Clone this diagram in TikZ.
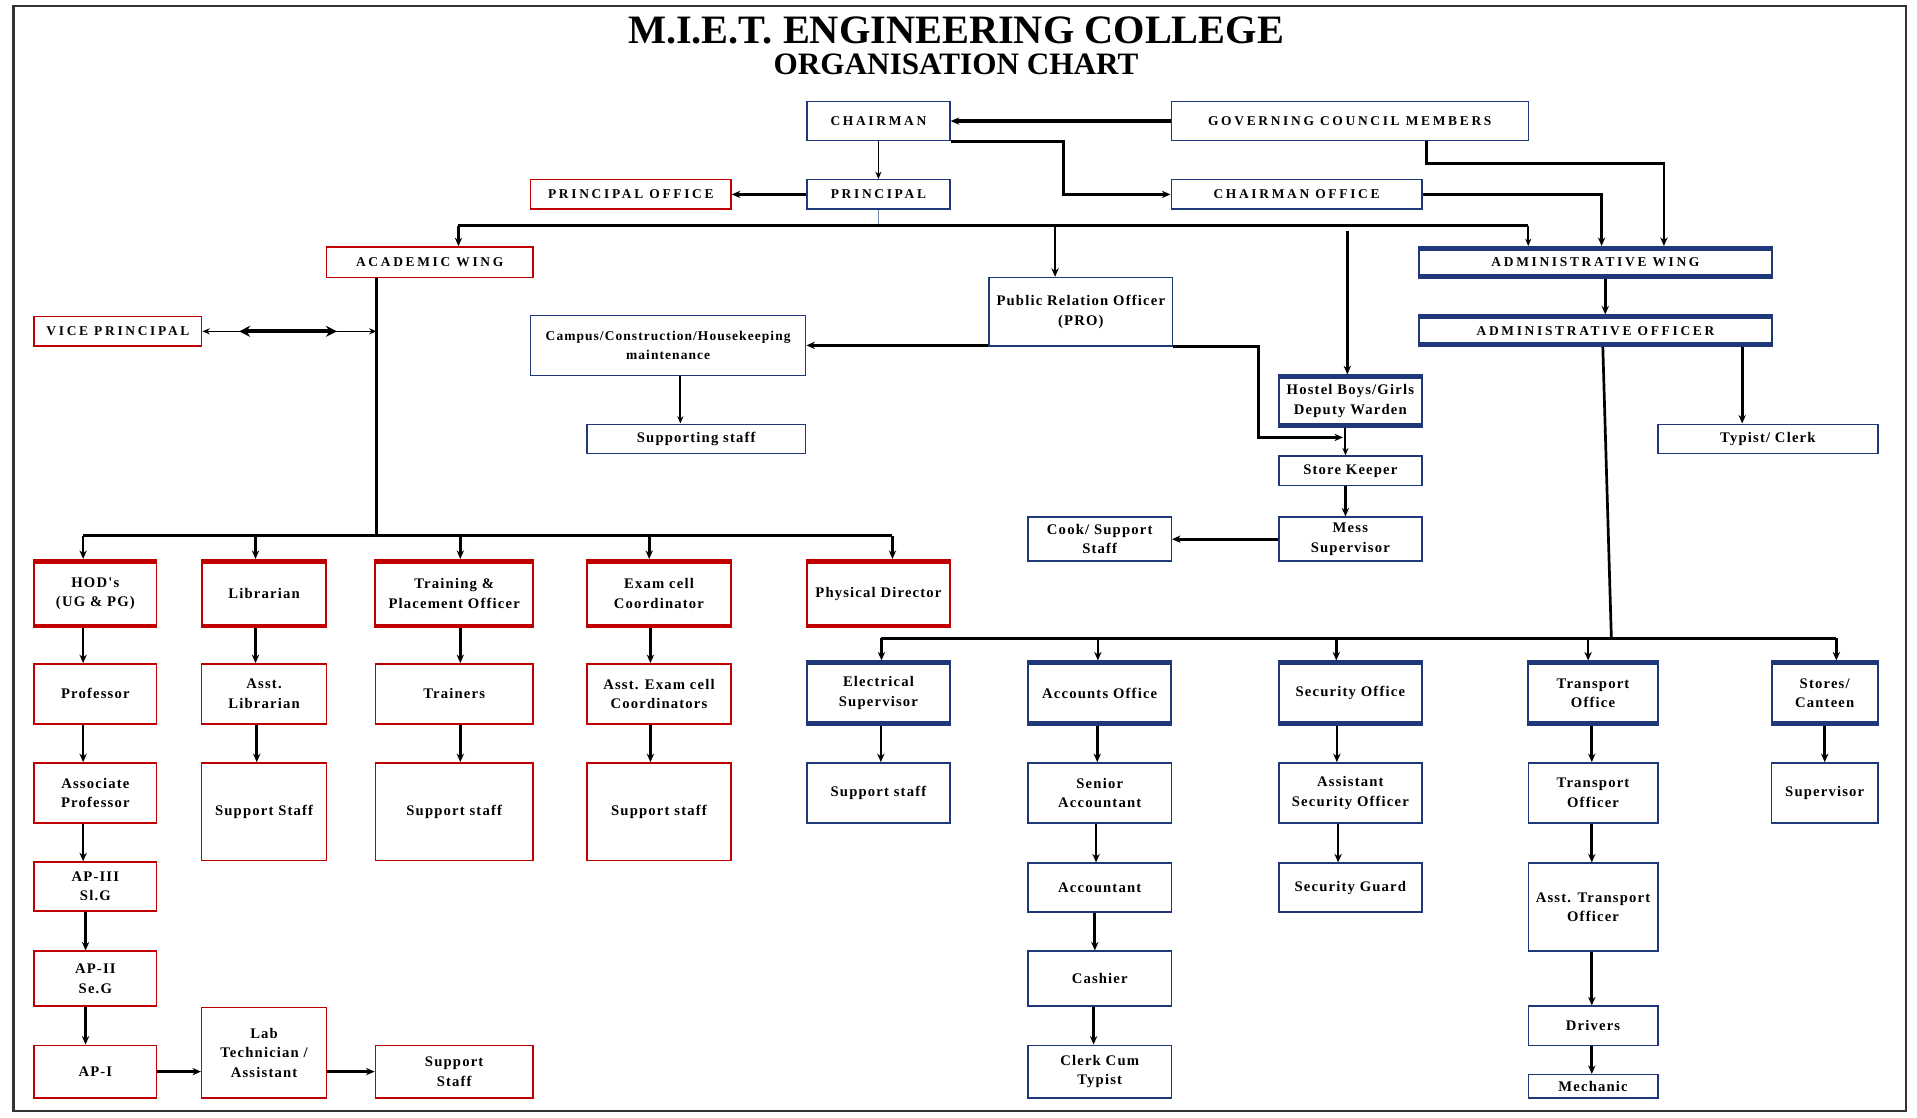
\documentclass[tikz,border=0pt]{standalone}
\usepackage{fontspec}
\setmainfont{Liberation Serif}
\newfontfamily\boxfont[LetterSpace=8]{Liberation Serif}
\newfontfamily\capsfont[LetterSpace=20]{Liberation Serif}
\usetikzlibrary{arrows.meta}
\definecolor{navyblue}{RGB}{31,56,122}
\definecolor{darkred}{RGB}{192,0,0}

\tikzset{
  bluebox/.style={draw=navyblue, line width=1.2pt, fill=white, inner sep=1pt, align=center,
    font=\boxfont\bfseries\fontsize{12}{16}\selectfont},
  redbox/.style={bluebox, draw=darkred},
  caps/.style={font=\capsfont\bfseries\fontsize{11}{14}\selectfont},
  widebox/.style={line width=1.6pt, path picture={
    \draw[#1, line width=6pt] (path picture bounding box.north west) -- (path picture bounding box.north east)
      (path picture bounding box.south west) -- (path picture bounding box.south east);}},
  bluewide/.style={bluebox, widebox=navyblue},
  redwide/.style={redbox, widebox=darkred},
  link/.style={line width=2.2pt},
  arr/.style={link, -{Stealth[length=7pt,width=6pt]}},
  arrthin/.style={line width=1.2pt, -{Stealth[length=6pt,width=5pt]}},
}

\begin{document}
\begin{tikzpicture}[x=1pt,y=-1pt]
\useasboundingbox (0,0) rectangle (1568,914);

%Frame
\draw[line width=1.8pt, black!80] (11,5) rectangle (1559,909);

% Title
\node[inner sep=0pt, font=\bfseries\fontsize{33}{36}\selectfont] (title1) at (782,25) {M.I.E.T. ENGINEERING COLLEGE};
\node[inner sep=0pt, font=\bfseries\fontsize{25.5}{28}\selectfont] (title2) at (782,53) {ORGANISATION CHART};

%Top level
\node[bluebox, caps, minimum width=117, minimum height=32] (chairman) at (718.5,99) {CHAIRMAN};
\node[bluebox, caps, minimum width=292, minimum height=32] (gcm) at (1104,99) {GOVERNING COUNCIL MEMBERS};
\node[redbox, caps, minimum width=164, minimum height=24] (poffice) at (516,159) {PRINCIPAL OFFICE};
\node[bluebox, caps, minimum width=117, minimum height=24] (principal) at (718.5,159) {PRINCIPAL};
\node[bluebox, caps, minimum width=205, minimum height=24] (choffice) at (1060.5,159) {CHAIRMAN OFFICE};
\node[redbox, caps, minimum width=169, minimum height=25] (acad) at (351.5,214.5) {ACADEMIC WING};
\node[bluewide, caps, minimum width=288, minimum height=25] (admwing) at (1305,214.5) {ADMINISTRATIVE WING};
\node[redbox, caps, minimum width=137, minimum height=24] (vp) at (96.5,271) {VICE PRINCIPAL};
\node[bluebox, minimum width=150, minimum height=56] (pro) at (884,255) {Public Relation Officer\\(PRO)};
\node[bluebox, font=\boxfont\bfseries\fontsize{11}{15}\selectfont, minimum width=225, minimum height=49] (campus) at (546.5,282.5) {Campus/Construction/Housekeeping\\maintenance};
\node[bluewide, caps, minimum width=288, minimum height=25] (admoff) at (1305,270.5) {ADMINISTRATIVE OFFICER};
\node[bluebox, minimum width=179, minimum height=24] (suppstaff) at (569.5,359) {Supporting staff};
\node[bluewide, minimum width=117, minimum height=42] (hostel) at (1104.5,328) {Hostel Boys/Girls\\Deputy Warden};
\node[bluebox, minimum width=117, minimum height=24] (store) at (1104.5,385) {Store Keeper};
\node[bluebox, minimum width=180, minimum height=24] (typist) at (1446,359) {Typist/ Clerk};
\node[bluebox, minimum width=117, minimum height=36] (cook) at (899.5,441) {Cook/ Support\\Staff};
\node[bluebox, minimum width=117, minimum height=36] (mess) at (1104.5,441) {Mess\\Supervisor};

%Academic wing
\node[redwide, minimum width=100, minimum height=55] (hod) at (78,485.5) {HOD's\\(UG \& PG)};
\node[redwide, minimum width=102, minimum height=55] (lib) at (216,485.5) {Librarian};
\node[redwide, minimum width=129, minimum height=55] (tpo) at (371.5,485.5) {Training \&\\Placement Officer};
\node[redwide, minimum width=118, minimum height=55] (exam) at (539,485.5) {Exam cell\\Coordinator};
\node[redwide, minimum width=117, minimum height=55] (phys) at (718.5,485.5) {Physical Director};
\node[redbox, minimum width=100, minimum height=49] (prof) at (78,567.5) {Professor};
\node[redbox, minimum width=102, minimum height=49] (asstlib) at (216,567.5) {Asst.\\Librarian};
\node[redbox, minimum width=129, minimum height=49] (trainers) at (371.5,567.5) {Trainers};
\node[redbox, minimum width=118, minimum height=49] (asstexam) at (539,567.5) {Asst. Exam cell\\Coordinators};
\node[redbox, minimum width=100, minimum height=49] (assoc) at (78,648.5) {Associate\\Professor};
\node[redbox, minimum width=102, minimum height=80] (libsupp) at (216,664) {Support Staff};
\node[redbox, minimum width=129, minimum height=80] (trsupp) at (371.5,664) {Support staff};
\node[redbox, minimum width=118, minimum height=80] (exsupp) at (539,664) {Support staff};
\node[redbox, minimum width=100, minimum height=40] (ap3) at (78,725) {AP-III\\Sl.G};
\node[redbox, minimum width=100, minimum height=45] (ap2) at (78,800.5) {AP-II\\Se.G};
\node[redbox, minimum width=100, minimum height=43] (ap1) at (78,876.5) {AP-I};
\node[redbox, minimum width=102, minimum height=74] (labtech) at (216,861) {Lab\\Technician /\\Assistant};
\node[redbox, minimum width=129, minimum height=43] (apsupp) at (371.5,876.5) {Support\\Staff};

%Administrative wing
\node[bluewide, minimum width=117, minimum height=52] (elec) at (718.5,567) {Electrical\\Supervisor};
\node[bluewide, minimum width=117, minimum height=52] (accounts) at (899.5,567) {Accounts Office};
\node[bluewide, minimum width=117, minimum height=52] (security) at (1104.5,567) {Security Office};
\node[bluewide, minimum width=106, minimum height=52] (transport) at (1303,567) {Transport\\Office};
\node[bluewide, minimum width=87, minimum height=52] (stores) at (1492.5,567) {Stores/\\Canteen};
\node[bluebox, minimum width=117, minimum height=49] (elsupp) at (718.5,648.5) {Support staff};
\node[bluebox, minimum width=117, minimum height=49] (senacc) at (899.5,648.5) {Senior\\Accountant};
\node[bluebox, minimum width=117, minimum height=49] (asstsec) at (1104.5,648.5) {Assistant\\Security Officer};
\node[bluebox, minimum width=106, minimum height=49] (trofficer) at (1303,648.5) {Transport\\Officer};
\node[bluebox, minimum width=87, minimum height=49] (storesup) at (1492.5,648.5) {Supervisor};
\node[bluebox, minimum width=117, minimum height=40] (accountant) at (899.5,726) {Accountant};
\node[bluebox, minimum width=117, minimum height=40] (guard) at (1104.5,726) {Security Guard};
\node[bluebox, minimum width=106, minimum height=72] (asstrans) at (1303,742) {Asst. Transport\\Officer};
\node[bluebox, minimum width=117, minimum height=45] (cashier) at (899.5,800.5) {Cashier};
\node[bluebox, minimum width=106, minimum height=32] (drivers) at (1303,839) {Drivers};
\node[bluebox, minimum width=117, minimum height=43] (clerk) at (899.5,876.5) {Clerk Cum\\Typist};
\node[bluebox, minimum width=106, minimum height=19, inner sep=0pt] (mechanic) at (1303,888.5) {Mechanic};

%Bus points
\coordinate (prbus) at ([yshift=-13pt]principal.south);
\coordinate (acadbus) at (308,438);
\coordinate (admbus) at (1318,522);

%Top connectors
\draw[arr, line width=2.6pt] (gcm.west) -- (chairman.east);
\draw[arrthin] (chairman) -- (principal);
\draw[arr] (principal.west) -- (poffice.east);
\draw[arr] (chairman.south east) -- ++(92,0) |- (choffice.west);
\draw[arr] ([xshift=63pt]gcm.south) -- ++(0,18) -| ([xshift=56pt]admwing.north);
\draw[arr] (choffice.east) -| ([xshift=5pt]admwing.north);
\draw[line width=1pt, navyblue!60] (principal.south) -- (prbus);
\draw[link, line width=2.6pt] ([xshift=23.5pt]acad.north |- prbus) -- ([xshift=-55pt]admwing.north |- prbus);
\draw[arr, line width=2.6pt] ([xshift=23.5pt]acad.north |- prbus) -- ([xshift=23.5pt]acad.north);
\draw[arr] ([xshift=-21pt]pro.north |- prbus) -- ([xshift=-21pt]pro.north);
\draw[arr] ([xshift=-2.5pt,yshift=-4pt]hostel.north |- prbus) -- ([xshift=-2.5pt]hostel.north);
\draw[arrthin, line width=1.8pt] ([xshift=-55pt]admwing.north |- prbus) -- ([xshift=-55pt]admwing.north);

%Middle connectors
\draw[arr] (pro.south west |- campus.east) -- (campus.east);
\draw[arrthin, line width=1.6pt] ([xshift=10pt]campus.south) -- ([xshift=-13pt]suppstaff.north);
\draw[arr] (pro.south east) -- ++(70,0) |- ([xshift=-6pt,yshift=-8pt]hostel.south);
\draw[arrthin, line width=1.6pt] ([xshift=-4pt]hostel.south) -- ([xshift=-4pt]store.north);
\draw[arr] ([xshift=-4pt]store.south) -- ([xshift=-4pt]mess.north);
\draw[arr] (mess.west) -- (cook.east);
\draw[arr, line width=2.6pt] ([xshift=8pt]admwing.south) -- ([xshift=8pt]admoff.north);
\draw[arr] ([xshift=120pt]admoff.south) -- ([xshift=-21pt]typist.north);

%Vice principal
\draw[arrthin, {Stealth[length=6pt,width=5pt]}-{Stealth[length=6pt,width=5pt]}] (vp.east) -- (vp.east -| acadbus);
\draw[line width=3.2pt, {Stealth[length=9pt,width=9pt]}-{Stealth[length=9pt,width=9pt]}] ([xshift=30pt]vp.east) -- ([xshift=110pt]vp.east);

%Academic tree
\draw[link, line width=2.6pt] ([xshift=-43.5pt]acad.south) -- (acadbus);
\draw[link] ([xshift=-10pt]hod.north |- acadbus) -- ([xshift=11.5pt]phys.north |- acadbus);
\foreach \n/\dx in {hod/-10, lib/-7, tpo/5, exam/-8, phys/11.5}
  \draw[arr] ([xshift=\dx pt]\n.north |- acadbus) -- ([xshift=\dx pt]\n.north);
\foreach \a/\b/\dx in {hod/prof/-10, prof/assoc/-10, assoc/ap3/-10, ap3/ap2/-8, ap2/ap1/-8,
    lib/asstlib/-7, asstlib/libsupp/-6, tpo/trainers/5, trainers/trsupp/5,
    exam/asstexam/-7, asstexam/exsupp/-7}
  \draw[arr] ([xshift=\dx pt]\a.south) -- ([xshift=\dx pt]\b.north);
\draw[arr] (ap1.east) -- (ap1.east -| labtech.west);
\draw[arr, line width=2.6pt] (labtech.east |- apsupp.west) -- (apsupp.west);

%Administrative tree
\draw[link] ([xshift=6pt]admoff.south) -- (admbus);
\draw[link] ([xshift=2.5pt]elec.north |- admbus) -- ([xshift=9.5pt]stores.north |- admbus);
\foreach \n/\dx in {elec/2.5, accounts/-1.5, security/-11.5, transport/-4, stores/9.5}
  \draw[arr] ([xshift=\dx pt]\n.north |- admbus) -- ([xshift=\dx pt]\n.north);
\foreach \a/\b/\dx in {elec/elsupp/2, accounts/senacc/-2, senacc/accountant/-3, accountant/cashier/-4,
    cashier/clerk/-5, security/asstsec/-11, asstsec/guard/-10, transport/trofficer/-1,
    trofficer/asstrans/-1, asstrans/drivers/-1, drivers/mechanic/-1, stores/storesup/0}
  \draw[arr] ([xshift=\dx pt]\a.south) -- ([xshift=\dx pt]\b.north);

\end{tikzpicture}
\end{document}
